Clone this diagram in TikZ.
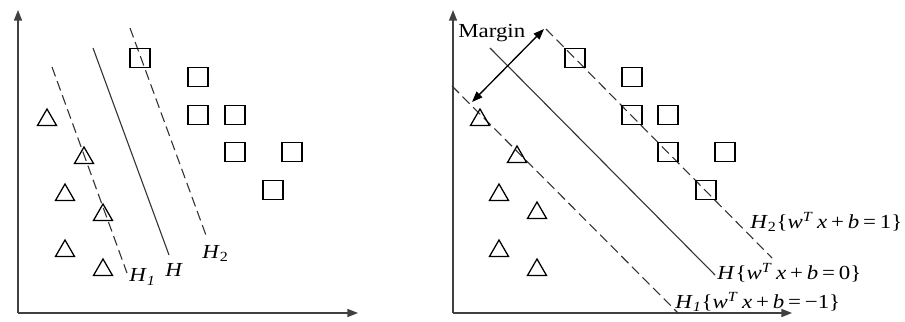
\documentclass[tikz,border=0pt]{standalone}
\usepackage{fontspec}
\setmainfont{Liberation Serif}
\usetikzlibrary{arrows.meta,shapes.geometric}
\newcommand{\hyp}[2]{\textit{H}\textsubscript{#1}\{\textit{w}\textsuperscript{\textit{T}}\,\textit{x}\,+\,\textit{b}\,=\,#2\}}

\begin{document}
\begin{tikzpicture}[x=0.3mm,y=-0.3mm, ax/.style={-{Triangle[length=3.2mm,width=2.4mm]},line width=0.45mm,draw=black!75}, sep/.style={draw=black!80,line width=0.33mm}, marg/.style={sep,dash pattern=on 3mm off 1.5mm}, dbl/.style={{Triangle[length=3.2mm,width=2.4mm]}-{Triangle[length=3.2mm,width=2.4mm]},line width=0.4mm}, tri/.style={draw,regular polygon,regular polygon sides=3,minimum size=6.6mm,inner sep=0pt,line width=0.38mm}, sq/.style={draw,rectangle,minimum width=6mm,minimum height=5.7mm,inner sep=0pt,line width=0.38mm}, lbl/.style={font=\fontsize{17}{19}\selectfont,inner sep=0pt,xscale=1.15}]
\useasboundingbox (0,0) rectangle (905,322);
% left panel
\coordinate (O1) at (18,313); \coordinate (Y1) at (18,10); \coordinate (X1) at (358,313);
\draw[ax] (O1)--(Y1); \draw[ax] (O1)--(X1);
\coordinate (a1) at (52,67); \coordinate (a2) at (127,273);
\coordinate (b1) at (93,48); \coordinate (b2) at (169,255);
\coordinate (c1) at (130,28); \coordinate (c2) at (207,238);
\draw[marg] (a1)--(a2); \draw[sep] (b1)--(b2); \draw[marg] (c1)--(c2);
\node[lbl,anchor=west] (lH1) at (129,277) {\textit{H}\textsubscript{\textit{1}}};
\node[lbl,anchor=west] (lH) at (165,270) {\textit{H}};
\node[lbl,anchor=west] (lH2) at (202,253) {\textit{H}\textsubscript{2}};
\foreach \x/\y [count=\i] in {47/120,84/158,65/195,103/215,65/251,103/270}
  \node[tri] (lt\i) at (\x,\y) {};
\foreach \x/\y [count=\i] in {140/58,198/77,198/115,235/115,235/152,292/152,273/190}
  \node[sq] (ls\i) at (\x,\y) {};
% right panel
\coordinate (O2) at (453,313); \coordinate (Y2) at (453,10); \coordinate (X2) at (792,313);
\draw[ax] (O2)--(Y2); \draw[ax] (O2)--(X2);
\coordinate (p1) at (452,86); \coordinate (p2) at (678,313);
\coordinate (q1) at (490,48); \coordinate (q2) at (715,275);
\coordinate (r1) at (546,29); \coordinate (r2) at (772,258);
\draw[marg] (p1)--(p2); \draw[sep] (q1)--(q2); \draw[marg] (r1)--(r2);
\foreach \x/\y [count=\i] in {480/120,517/157,499/195,537/213,499/251,537/270}
  \node[tri] (rt\i) at (\x,\y) {};
\foreach \x/\y [count=\i] in {575/58,632/77,632/115,668/115,668/152,725/152,706/190}
  \node[sq] (rs\i) at (\x,\y) {};
\node[lbl,anchor=west] (mg) at (458,33) {Margin};
\coordinate (m1) at (544,29); \coordinate (m2) at (472,102);
\draw[dbl] (m1)--(m2);
\node[lbl,anchor=west] (rH2) at (750,222) {\hyp{2}{1}};
\node[lbl,anchor=west] (rH) at (717,273) {\hyp{}{0}};
\node[lbl,anchor=west] (rH1) at (675,302) {\textit{H}\textsubscript{\textit{1}}\{\textit{w}\textsuperscript{\textit{T}}\,\textit{x}\,+\,\textit{b}\,=\,−1\}};
\end{tikzpicture}
\end{document}
